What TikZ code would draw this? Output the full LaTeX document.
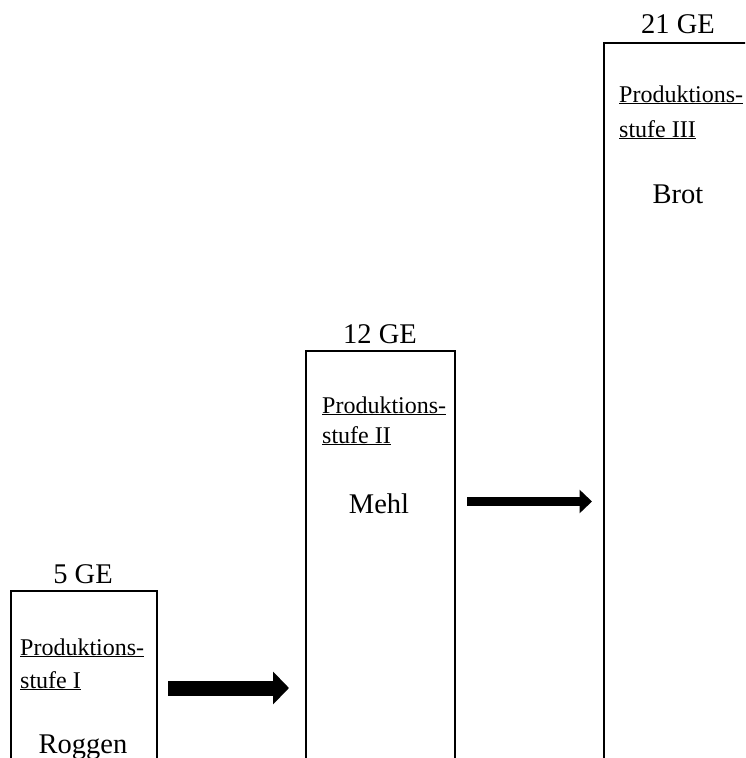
\documentclass[tikz,border=0pt]{standalone}
\usepackage{fontspec}
\setmainfont{Liberation Serif}
\usetikzlibrary{arrows.meta}
\begin{document}
\begin{tikzpicture}[x=1pt,y=-1pt,
  stagebox/.style={draw, line width=2pt, anchor=north west, inner sep=0pt},
  valuetext/.style={anchor=base, inner sep=0pt, font=\fontsize{28.5}{30}\selectfont},
  stagetext/.style={anchor=base west, inner sep=0pt, font=\fontsize{24}{26}\selectfont},
  goodtext/.style={anchor=base, inner sep=0pt, font=\fontsize{28.5}{30}\selectfont},
  bigarrow/.style={line width=15pt, -{Triangle[length=16pt,width=32pt]}},
  smallarrow/.style={line width=9.5pt, -{Triangle[length=12.5pt,width=23pt]}}]
\useasboundingbox (0,0) rectangle (745,758);
\clip (0,0) rectangle (745,758);
% boxes (open at the bottom edge of the picture)
\node[stagebox, minimum width=146pt, minimum height=220pt] (b1) at (10,590) {};
\node[stagebox, minimum width=149pt, minimum height=460pt] (b2) at (305,350) {};
\node[stagebox, minimum width=150pt, minimum height=770pt] (b3) at (603,42) {};
% values
\node[valuetext] (v1) at (83,583) {5 GE};
\node[valuetext] (v2) at (380,343) {12 GE};
\node[valuetext] (v3) at (678,33) {21 GE};
% stage labels
\node[stagetext] (p1a) at (20,655) {\underline{Produktions-}};
\node[stagetext] (p1b) at (20,688) {\underline{stufe I}};
\node[stagetext] (p2a) at (322,413) {\underline{Produktions-}};
\node[stagetext] (p2b) at (322,443) {\underline{stufe II}};
\node[stagetext] (p3a) at (619,102) {\underline{Produktions-}};
\node[stagetext] (p3b) at (619,137) {\underline{stufe III}};
% goods
\node[goodtext] (g1) at (83,753) {Roggen};
\node[goodtext] (g2) at (379,513) {Mehl};
\node[goodtext] (g3) at (678,203) {Brot};
% arrows
\coordinate (a1s) at (168,688);
\coordinate (a1e) at (289,688);
\coordinate (a2s) at (467,501.5);
\coordinate (a2e) at (592,501.5);
\draw[bigarrow] (a1s) -- (a1e);
\draw[smallarrow] (a2s) -- (a2e);
\end{tikzpicture}
\end{document}
